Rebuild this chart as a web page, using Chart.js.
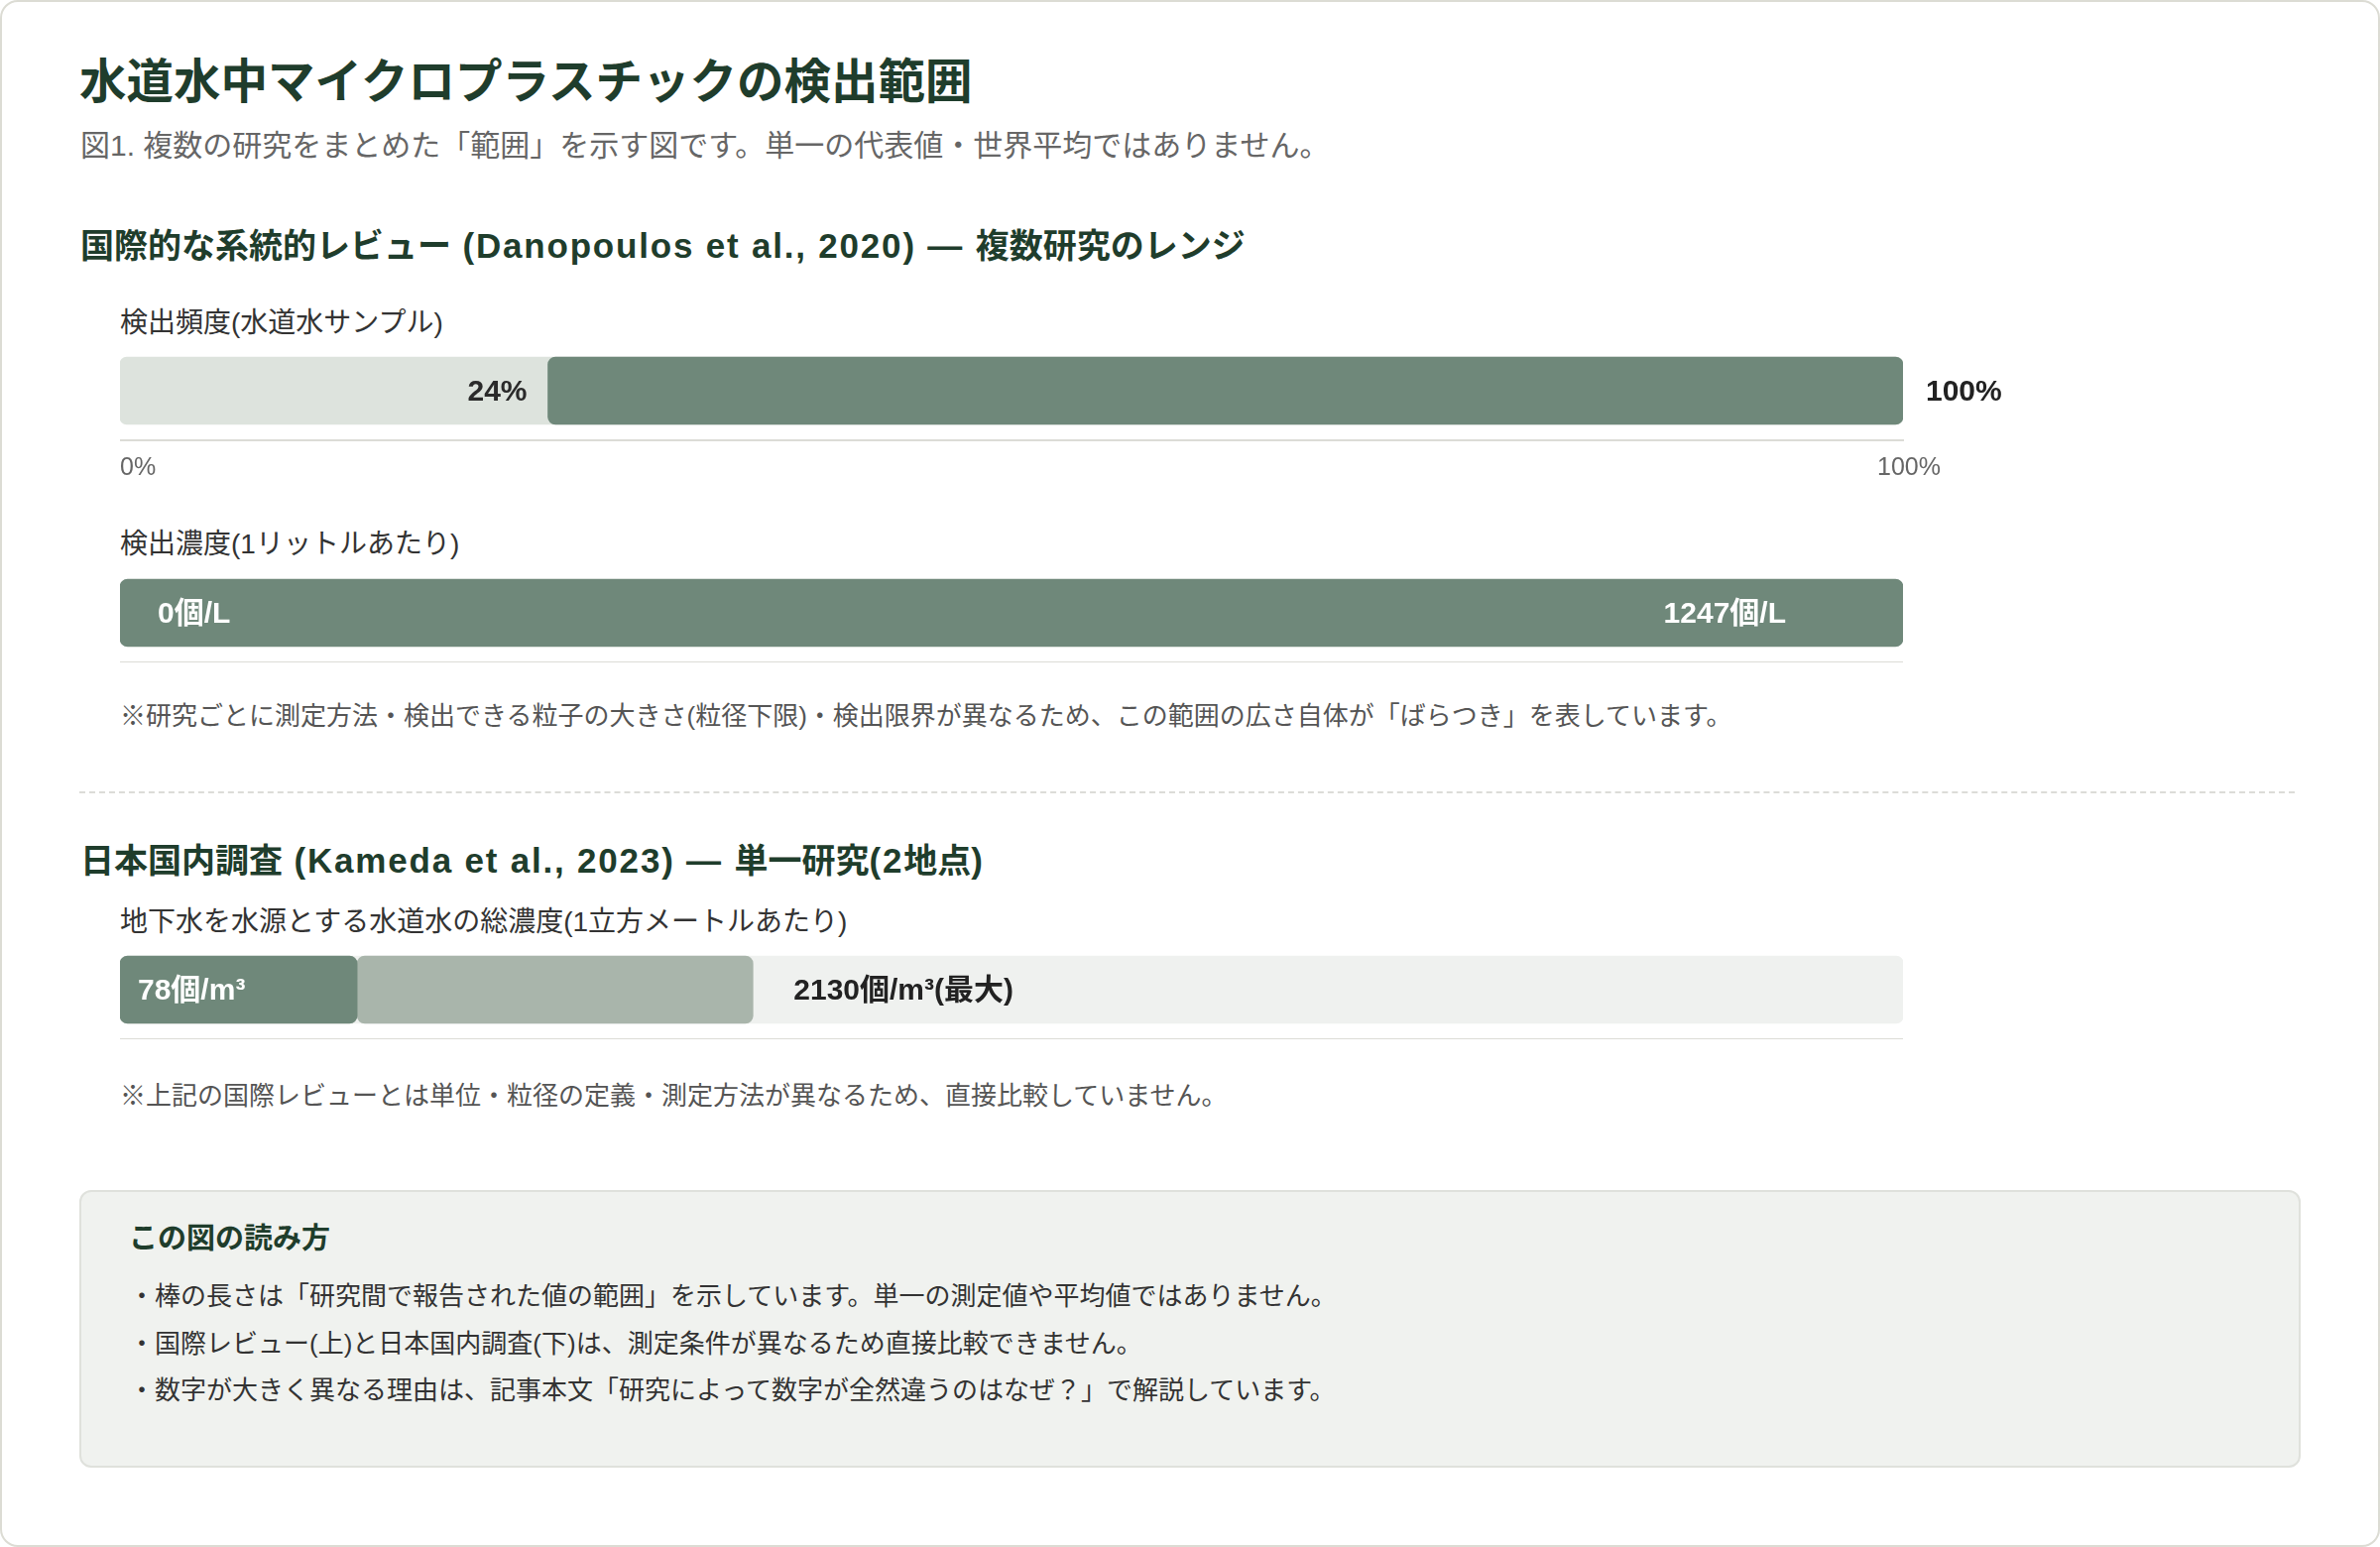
<!DOCTYPE html>
<html lang="ja">
<head>
<meta charset="utf-8">
<script src="https://cdn.jsdelivr.net/npm/chart.js@4.4.1/dist/chart.umd.min.js"></script>
<style>
html,body{margin:0;padding:0;background:#fff;}
body{width:2400px;height:1560px;position:relative;overflow:hidden;font-family:"Liberation Sans","Noto Sans CJK JP",sans-serif;}
.card{position:absolute;left:0;top:0;width:2400px;height:1560px;box-sizing:border-box;border:2px solid #dcdcd4;border-radius:18px;background:#fff;}
.t{position:absolute;line-height:1;white-space:nowrap;}
.title{left:80px;top:55px;font-size:47.5px;font-weight:700;color:#1f3d2c;font-family:"Noto Sans CJK JP",sans-serif;}
.sub{left:81px;top:132px;font-size:30px;color:#666;}
.h2{left:81px;font-size:34px;font-weight:700;color:#1f3d2c;}
.h2 .lt{font-size:35px;letter-spacing:1.8px;}
.lab{left:121px;font-size:28px;color:#333;}
.note{left:121px;font-size:26px;color:#555;}
.dash{position:absolute;left:80px;top:798px;width:2234px;border-top:2px dashed #dcdcd8;}
.box{position:absolute;left:80px;top:1200px;width:2240px;height:280px;box-sizing:border-box;background:#f0f2ef;border:2px solid #dfe1dc;border-radius:12px;}
.bh{left:130px;top:1235px;font-size:29px;font-weight:700;color:#1f3d2c;}
.bl{left:130px;font-size:26px;color:#333;}
.cw{position:absolute;}
</style>
</head>
<body>
<div class="card"></div>
<div class="t title">水道水中マイクロプラスチックの検出範囲</div>
<div class="t sub">図1. 複数の研究をまとめた「範囲」を示す図です。単一の代表値・世界平均ではありません。</div>

<div class="t h2" style="top:230px;">国際的な系統的レビュー<span class="lt"> (Danopoulos et al., 2020) — </span>複数研究のレンジ</div>
<div class="t lab" style="top:312px;">検出頻度(水道水サンプル)</div>
<div class="cw" style="left:121px;top:344px;width:1938px;height:150px;"><canvas id="c1"></canvas></div>
<div class="t lab" style="top:535px;">検出濃度(1リットルあたり)</div>
<div class="cw" style="left:121px;top:568px;width:1798px;height:100px;"><canvas id="c2"></canvas></div>
<div class="t note" style="top:709px;">※研究ごとに測定方法・検出できる粒子の大きさ(粒径下限)・検出限界が異なるため、この範囲の広さ自体が「ばらつき」を表しています。</div>

<div class="dash"></div>

<div class="t h2" style="top:850px;">日本国内調査<span class="lt"> (Kameda et al., 2023) — </span>単一研究<span class="lt">(2</span>地点<span class="lt">)</span></div>
<div class="t lab" style="top:916px;">地下水を水源とする水道水の総濃度(1立方メートルあたり)</div>
<div class="cw" style="left:121px;top:948px;width:1798px;height:100px;"><canvas id="c3"></canvas></div>
<div class="t note" style="top:1092px;">※上記の国際レビューとは単位・粒径の定義・測定方法が異なるため、直接比較していません。</div>

<div class="box"></div>
<div class="t bh">この図の読み方</div>
<div class="t bl" style="top:1294px;">・棒の長さは「研究間で報告された値の範囲」を示しています。単一の測定値や平均値ではありません。</div>
<div class="t bl" style="top:1342px;">・国際レビュー(上)と日本国内調査(下)は、測定条件が異なるため直接比較できません。</div>
<div class="t bl" style="top:1389px;">・数字が大きく異なる理由は、記事本文「研究によって数字が全然違うのはなぜ？」で解説しています。</div>

<script>
// ---- data ----
const freqCategory = ['検出頻度(水道水サンプル)'];
const freqRange = [24, 100];          // % of tap-water samples with detection
const freqAxisTicks = [0, 100];       // axis tick values (%)
const freqTickLabels = ['0%', '100%'];

const concCategory = ['検出濃度(1リットルあたり)'];
const concRange = [0, 1247];          // particles per litre

const kamedaCategory = ['地下水を水源とする水道水の総濃度'];
const kamedaValues = [78, 2130];      // particles per m3 (min, max)
const kamedaBarEnds = [13.3, 35.5];   // drawn extent of each segment (% of track)

// ---- styles ----
const DARK = '#6f887a', LIGHT = '#dde3dd', MID = '#a9b5ab', PALE = '#eff1ef';
const AXIS = '#dcdcd6';
const FONT = '"Liberation Sans", "Noto Sans CJK JP", sans-serif';
const BAR_T = 68;

function baseOptions(xmin, xmax, padRight, padBottom) {
  return {
    indexAxis: 'y',
    responsive: true,
    maintainAspectRatio: false,
    animation: false,
    events: [],
    layout: { padding: { left: 0, right: padRight, top: 0, bottom: padBottom } },
    plugins: { legend: { display: false }, tooltip: { enabled: false } },
    scales: {
      x: {
        type: 'linear', min: xmin, max: xmax, display: true,
        grid: { display: false, drawTicks: false },
        ticks: { display: false },
        border: { display: true, color: AXIS, width: 2 }
      },
      y: { display: false, grid: { display: false } }
    }
  };
}

function bar(data, color, order, radius) {
  return { data: [data], backgroundColor: color, borderRadius: radius, borderSkipped: false,
           grouped: false, barThickness: BAR_T, order: order };
}

function drawText(ctx, text, x, y, align, color, weight, size) {
  ctx.save();
  ctx.font = weight + ' ' + size + 'px ' + FONT;
  ctx.fillStyle = color;
  ctx.textAlign = align;
  ctx.textBaseline = 'middle';
  ctx.fillText(text, x, y);
  ctx.restore();
}

// Chart 1: detection frequency
new Chart(document.getElementById('c1'), {
  type: 'bar',
  data: {
    labels: freqCategory,
    datasets: [
      bar(freqRange, DARK, 0, 8),
      bar([freqAxisTicks[0], freqAxisTicks[1]], LIGHT, 1, 7)
    ]
  },
  options: baseOptions(freqAxisTicks[0], freqAxisTicks[1], 140, 50),
  plugins: [{
    id: 'labels1',
    afterDatasetsDraw(chart) {
      const x = chart.scales.x, ctx = chart.ctx;
      const y = chart.getDatasetMeta(0).data[0].y;
      drawText(ctx, freqRange[0] + '%', x.getPixelForValue(freqRange[0]) - 21, y + 2, 'right', '#2a2a2a', '700', 30);
      drawText(ctx, freqRange[1] + '%', x.getPixelForValue(freqRange[1]) + 23, y + 2, 'left', '#222', '700', 30);
      const ty = chart.chartArea.bottom + 28;
      drawText(ctx, freqTickLabels[0], x.getPixelForValue(freqAxisTicks[0]), ty, 'left', '#666', '400', 25);
      drawText(ctx, freqTickLabels[1], x.getPixelForValue(freqAxisTicks[1]) + 6, ty, 'center', '#666', '400', 25);
    }
  }]
});

// Chart 2: concentration per litre
new Chart(document.getElementById('c2'), {
  type: 'bar',
  data: { labels: concCategory, datasets: [ bar(concRange, DARK, 0, 8) ] },
  options: baseOptions(concRange[0], concRange[1], 0, 0),
  plugins: [{
    id: 'labels2',
    afterDatasetsDraw(chart) {
      const x = chart.scales.x, ctx = chart.ctx;
      const y = chart.getDatasetMeta(0).data[0].y;
      drawText(ctx, concRange[0] + '個/L', x.getPixelForValue(concRange[0]) + 38, y + 2, 'left', '#fff', '700', 30);
      drawText(ctx, concRange[1] + '個/L', x.getPixelForValue(concRange[1]) - 118, y + 2, 'right', '#fff', '700', 30);
    }
  }]
});

// Chart 3: Kameda et al. 2023
new Chart(document.getElementById('c3'), {
  type: 'bar',
  data: {
    labels: kamedaCategory,
    datasets: [
      bar([0, kamedaBarEnds[0]], DARK, 0, 8),
      bar([kamedaBarEnds[0], kamedaBarEnds[1]], MID, 1, 8),
      bar([0, 100], PALE, 2, 7)
    ]
  },
  options: baseOptions(0, 100, 0, 0),
  plugins: [{
    id: 'labels3',
    afterDatasetsDraw(chart) {
      const x = chart.scales.x, ctx = chart.ctx;
      const y = chart.getDatasetMeta(0).data[0].y;
      drawText(ctx, kamedaValues[0] + '個/m³', x.getPixelForValue(0) + 18, y + 2, 'left', '#fff', '700', 30);
      drawText(ctx, kamedaValues[1] + '個/m³(最大)', x.getPixelForValue(kamedaBarEnds[1]) + 41, y + 2, 'left', '#222', '700', 30);
    }
  }]
});
</script>
</body>
</html>
